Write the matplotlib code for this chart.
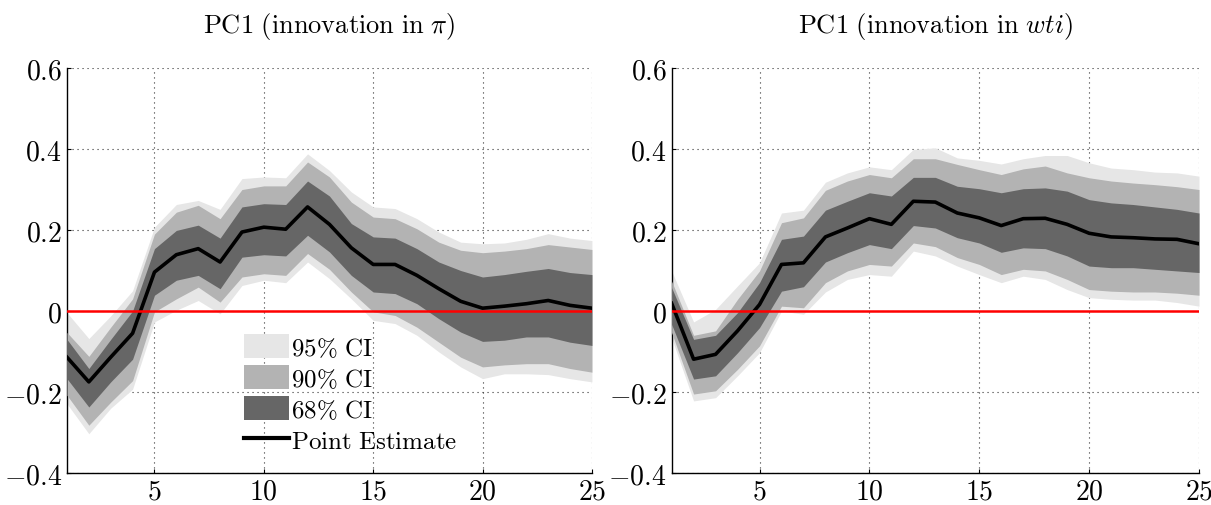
import numpy as np
import matplotlib
matplotlib.use("Agg")
import matplotlib.pyplot as plt
from matplotlib.patches import Patch
from matplotlib.lines import Line2D

plt.rcParams['mathtext.fontset'] = 'cm'
plt.rcParams['font.family'] = ['DejaVu Serif']

horizon = list(range(1, 26))

# Left panel: PC1 (innovation in pi)
pi_point = [-0.114, -0.175, -0.114, -0.055, 0.096, 0.139, 0.154, 0.121, 0.195, 0.207,
            0.202, 0.257, 0.214, 0.156, 0.115, 0.115, 0.088, 0.055, 0.024, 0.007,
            0.012, 0.018, 0.026, 0.014, 0.007]
pi_68_up = [-0.07, -0.142, -0.07, 0.0, 0.154, 0.199, 0.212, 0.18, 0.257, 0.265,
            0.263, 0.321, 0.284, 0.216, 0.183, 0.18, 0.154, 0.121, 0.10, 0.084,
            0.09, 0.098, 0.105, 0.095, 0.09]
pi_68_lo = [-0.167, -0.237, -0.175, -0.119, 0.039, 0.076, 0.088, 0.055, 0.133, 0.139,
            0.136, 0.187, 0.146, 0.088, 0.047, 0.043, 0.018, -0.019, -0.052, -0.075,
            -0.072, -0.064, -0.064, -0.077, -0.085]
pi_90_up = [-0.053, -0.112, -0.04, 0.03, 0.19, 0.244, 0.261, 0.228, 0.30, 0.309,
            0.309, 0.368, 0.331, 0.269, 0.232, 0.228, 0.203, 0.17, 0.15, 0.144,
            0.148, 0.154, 0.164, 0.158, 0.152]
pi_90_lo = [-0.208, -0.282, -0.225, -0.172, -0.002, 0.03, 0.059, 0.022, 0.084, 0.092,
            0.088, 0.142, 0.103, 0.047, -0.002, -0.011, -0.04, -0.077, -0.114, -0.138,
            -0.133, -0.13, -0.13, -0.142, -0.151]
pi_95_up = [-0.004, -0.068, -0.012, 0.05, 0.207, 0.263, 0.273, 0.251, 0.327, 0.331,
            0.329, 0.388, 0.347, 0.294, 0.257, 0.253, 0.228, 0.195, 0.17, 0.166,
            0.168, 0.177, 0.191, 0.18, 0.174]
pi_95_lo = [-0.229, -0.303, -0.24, -0.193, -0.027, 0.002, 0.026, -0.007, 0.063, 0.076,
            0.07, 0.121, 0.08, 0.03, -0.023, -0.031, -0.06, -0.101, -0.138, -0.167,
            -0.155, -0.155, -0.157, -0.167, -0.175]

# Right panel: PC1 (innovation in wti)
wti_point = [0.019, -0.119, -0.107, -0.049, 0.016, 0.115, 0.119, 0.183, 0.205, 0.228,
             0.214, 0.271, 0.269, 0.242, 0.23, 0.211, 0.228, 0.229, 0.214, 0.192,
             0.183, 0.181, 0.178, 0.177, 0.166]
wti_68_up = [0.058, -0.07, -0.06, -0.004, 0.07, 0.177, 0.185, 0.249, 0.271, 0.292,
             0.284, 0.33, 0.33, 0.308, 0.302, 0.292, 0.302, 0.304, 0.296, 0.275,
             0.267, 0.263, 0.257, 0.251, 0.242]
wti_68_lo = [-0.033, -0.168, -0.16, -0.103, -0.041, 0.049, 0.06, 0.121, 0.144, 0.164,
             0.154, 0.211, 0.205, 0.181, 0.168, 0.145, 0.156, 0.154, 0.136, 0.111,
             0.107, 0.107, 0.103, 0.099, 0.095]
wti_90_up = [0.074, -0.06, -0.049, 0.029, 0.099, 0.218, 0.23, 0.298, 0.321, 0.337,
             0.329, 0.376, 0.376, 0.362, 0.349, 0.337, 0.351, 0.358, 0.341, 0.329,
             0.321, 0.316, 0.312, 0.307, 0.30]
wti_90_lo = [-0.053, -0.205, -0.197, -0.144, -0.086, 0.012, 0.008, 0.07, 0.099, 0.115,
             0.111, 0.168, 0.159, 0.132, 0.115, 0.09, 0.103, 0.099, 0.078, 0.053,
             0.049, 0.047, 0.047, 0.044, 0.039]
wti_95_up = [0.099, -0.027, 0.004, 0.062, 0.119, 0.242, 0.249, 0.318, 0.341, 0.356,
             0.349, 0.399, 0.403, 0.378, 0.372, 0.363, 0.376, 0.384, 0.384, 0.366,
             0.353, 0.349, 0.343, 0.341, 0.333]
wti_95_lo = [-0.066, -0.222, -0.214, -0.16, -0.103, 0.0, -0.008, 0.047, 0.078, 0.09,
             0.086, 0.148, 0.136, 0.111, 0.09, 0.07, 0.086, 0.078, 0.053, 0.033,
             0.029, 0.027, 0.027, 0.021, 0.012]

titles = [r'$\mathrm{PC1\ (innovation\ in\ }\pi\mathrm{)}$',
          r'$\mathrm{PC1\ (innovation\ in\ }wti\mathrm{)}$']
yticks = [-0.4, -0.2, 0, 0.2, 0.4, 0.6]
ytick_labels = [r'$-0.4$', r'$-0.2$', r'$0$', r'$0.2$', r'$0.4$', r'$0.6$']
xticks = [5, 10, 15, 20, 25]
xtick_labels = [r'$5$', r'$10$', r'$15$', r'$20$', r'$25$']
legend_labels = [r'$\mathrm{95\%\ CI}$', r'$\mathrm{90\%\ CI}$',
                 r'$\mathrm{68\%\ CI}$', r'$\mathrm{Point\ Estimate}$']

c95, c90, c68 = '#e6e6e6', '#b3b3b3', '#666666'

fig = plt.figure(figsize=(12.11, 5.06), dpi=100)
positions = [[0.0553, 0.0632, 0.4335, 0.8004], [0.5546, 0.0632, 0.4355, 0.8004]]
panels = [
    (pi_point, pi_68_lo, pi_68_up, pi_90_lo, pi_90_up, pi_95_lo, pi_95_up),
    (wti_point, wti_68_lo, wti_68_up, wti_90_lo, wti_90_up, wti_95_lo, wti_95_up),
]

for i, (pos, data) in enumerate(zip(positions, panels)):
    point, l68, u68, l90, u90, l95, u95 = [np.array(d) for d in data]
    x = np.array(horizon)
    ax = fig.add_axes(pos)
    ax.fill_between(x, l95, u95, color=c95, lw=0, zorder=2)
    ax.fill_between(x, l90, u90, color=c90, lw=0, zorder=3)
    ax.fill_between(x, l68, u68, color=c68, lw=0, zorder=4)
    ax.plot(x, point, color='black', lw=2.6, zorder=5)
    ax.axhline(0, color='#ff0000', lw=1.8, zorder=6)
    ax.set_xlim(1, 25)
    ax.set_ylim(-0.4, 0.6)
    ax.set_xticks(xticks)
    ax.set_xticklabels(xtick_labels)
    ax.set_yticks(yticks)
    ax.set_yticklabels(ytick_labels)
    ax.tick_params(labelsize=20, direction='in', length=3, width=0.8)
    ax.grid(True, linestyle=(0, (1, 3.5)), color='#333333', lw=0.8, zorder=1)
    ax.set_axisbelow(True)
    for s in ['top', 'right']:
        ax.spines[s].set_visible(False)
    for s in ['left', 'bottom']:
        ax.spines[s].set_linewidth(1.0)
    ax.set_title(titles[i], fontsize=19, pad=26)
    if i == 0:
        handles = [Patch(facecolor=c95, edgecolor='none'),
                   Patch(facecolor=c90, edgecolor='none'),
                   Patch(facecolor=c68, edgecolor='none'),
                   Line2D([0], [0], color='black', lw=3)]
        ax.legend(handles, legend_labels, loc='lower left',
                  bbox_to_anchor=(0.337, 0.05), frameon=False, fontsize=18,
                  borderpad=0, borderaxespad=0, labelspacing=0.22,
                  handletextpad=0.1, handlelength=1.8, handleheight=1.1)

fig.savefig('out.png', dpi=100)
